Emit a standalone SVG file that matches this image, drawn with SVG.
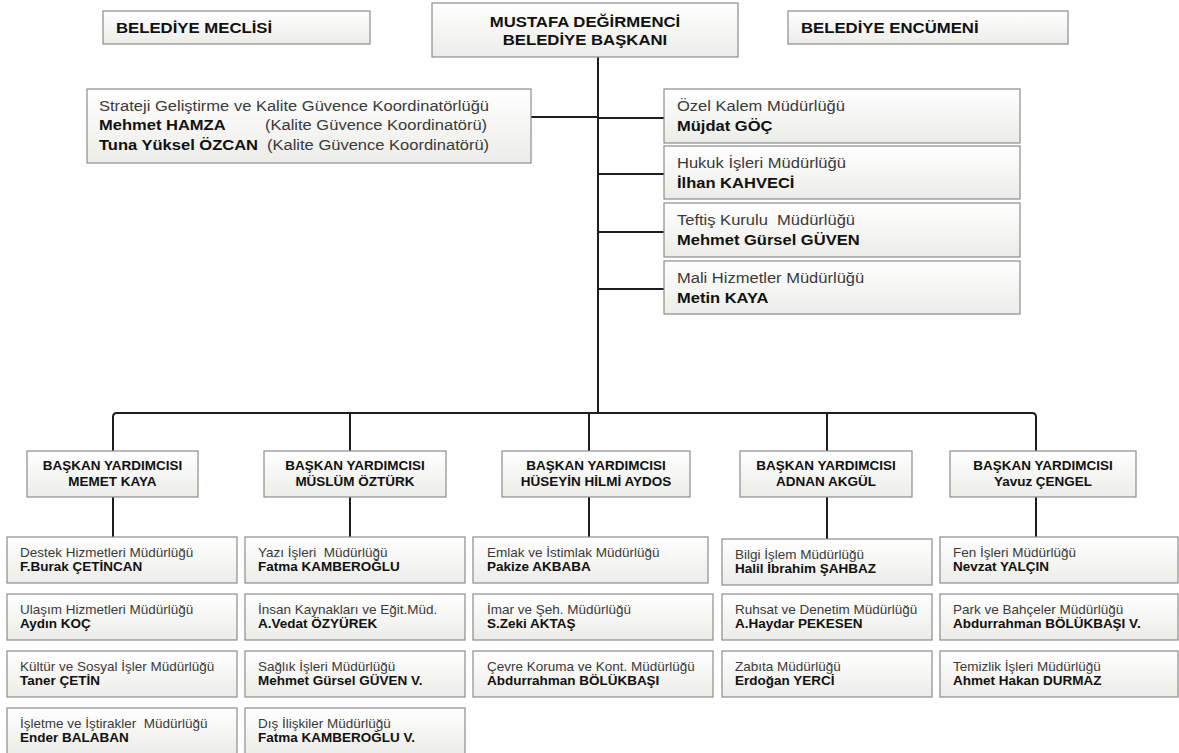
<svg xmlns="http://www.w3.org/2000/svg" width="1179" height="753" viewBox="0 0 1179 753">
<defs>
<linearGradient id="g" x1="0" y1="0" x2="0" y2="1">
<stop offset="0" stop-color="#ffffff"/>
<stop offset="1" stop-color="#ecece8"/>
</linearGradient>
<style>
.box{fill:url(#g);stroke:#8c8c8c;stroke-width:1.2}
.t{font-family:"Liberation Sans",Arial,sans-serif;fill:#3a3a3a}
.b{font-family:"Liberation Sans",Arial,sans-serif;font-weight:bold;fill:#111}
.top{font-size:15.5px;transform-box:fill-box;transform-origin:0 0;transform:scaleX(1.08)}
.topc{font-size:15.5px;text-anchor:middle;transform-box:fill-box;transform-origin:50% 0;transform:scaleX(1.08)}
.mid{font-size:14.5px;transform-box:fill-box;transform-origin:0 0;transform:scaleX(1.14)}
.vp{font-size:12.5px;text-anchor:middle;transform-box:fill-box;transform-origin:50% 0;transform:scaleX(1.08)}
.sm{font-size:12.5px;transform-box:fill-box;transform-origin:0 0;transform:scaleX(1.08)}
.ln{fill:none;stroke:#1e1e1e;stroke-width:2}
</style>
</defs>
<rect width="1179" height="753" fill="#ffffff"/>
<g id="connectors">
<path class="ln" d="M598 52 V413"/>
<path class="ln" d="M531 117 H598"/>
<path class="ln" d="M598 118 H664 M598 174 H664 M598 232 H664 M598 289 H664"/>
<path class="ln" d="M113 451 V417 Q113 413 117 413 H1032 Q1036 413 1036 417 V451"/>
<path class="ln" d="M350 413 V451 M589 413 V451 M827 413 V451"/>
<path class="ln" d="M113 497 V537 M350 497 V537 M589 497 V537 M827 497 V539 M1036 497 V537"/>
</g>
<g id="meclis"><rect class="box" x="103" y="11" width="267" height="33"/><text class="b top" x="116" y="33">BELEDİYE MECLİSİ</text></g>
<g id="baskan"><rect class="box" x="432" y="3" width="306" height="54"/>
<text class="b topc" x="585" y="27">MUSTAFA DEĞİRMENCİ</text>
<text class="b topc" x="585" y="45">BELEDİYE BAŞKANI</text></g>
<g id="encumen"><rect class="box" x="788" y="11" width="280" height="33"/><text class="b top" x="801" y="33">BELEDİYE ENCÜMENİ</text></g>
<g id="strateji"><rect class="box" x="87" y="89" width="444" height="74"/>
<text class="t mid" x="99" y="111">Strateji Geliştirme ve Kalite Güvence Koordinatörlüğü</text>
<text class="b mid" x="99" y="130">Mehmet HAMZA</text>
<text class="t mid" x="265" y="130">(Kalite Güvence Koordinatörü)</text>
<text class="b mid" x="99" y="150">Tuna Yüksel ÖZCAN</text>
<text class="t mid" x="267" y="150">(Kalite Güvence Koordinatörü)</text></g>
<g id="ozelkalem"><rect class="box" x="664" y="89" width="356" height="54"/><text class="t mid" x="677" y="111">Özel Kalem Müdürlüğü</text><text class="b mid" x="677" y="131">Müjdat GÖÇ</text></g>
<g id="hukuk"><rect class="box" x="664" y="146" width="356" height="53"/><text class="t mid" x="677" y="168">Hukuk İşleri Müdürlüğü</text><text class="b mid" x="677" y="188">İlhan KAHVECİ</text></g>
<g id="teftis"><rect class="box" x="664" y="203" width="356" height="54"/><text class="t mid" x="677" y="225" xml:space="preserve">Teftiş Kurulu  Müdürlüğü</text><text class="b mid" x="677" y="245">Mehmet Gürsel GÜVEN</text></g>
<g id="mali"><rect class="box" x="664" y="261" width="356" height="53"/><text class="t mid" x="677" y="283">Mali Hizmetler Müdürlüğü</text><text class="b mid" x="677" y="303">Metin KAYA</text></g>
<g id="vp1"><rect class="box" x="27" y="451" width="171" height="46"/><text class="b vp" x="112.5" y="470">BAŞKAN YARDIMCISI</text><text class="b vp" x="112.5" y="486">MEMET KAYA</text></g>
<g id="vp2"><rect class="box" x="264" y="451" width="182" height="46"/><text class="b vp" x="355" y="470">BAŞKAN YARDIMCISI</text><text class="b vp" x="355" y="486">MÜSLÜM ÖZTÜRK</text></g>
<g id="vp3"><rect class="box" x="502" y="451" width="188" height="46"/><text class="b vp" x="596" y="470">BAŞKAN YARDIMCISI</text><text class="b vp" x="596" y="486">HÜSEYİN HİLMİ AYDOS</text></g>
<g id="vp4"><rect class="box" x="740" y="451" width="172" height="46"/><text class="b vp" x="826" y="470">BAŞKAN YARDIMCISI</text><text class="b vp" x="826" y="486">ADNAN AKGÜL</text></g>
<g id="vp5"><rect class="box" x="950" y="451" width="186" height="46"/><text class="b vp" x="1043" y="470">BAŞKAN YARDIMCISI</text><text class="b vp" x="1043" y="486">Yavuz ÇENGEL</text></g>
<g id="c1r1"><rect class="box" x="7" y="537" width="230" height="46"/><text class="t sm" x="20" y="557">Destek Hizmetleri Müdürlüğü</text><text class="b sm" x="20" y="571">F.Burak ÇETİNCAN</text></g>
<g id="c1r2"><rect class="box" x="7" y="594" width="230" height="46"/><text class="t sm" x="20" y="614">Ulaşım Hizmetleri Müdürlüğü</text><text class="b sm" x="20" y="628">Aydın KOÇ</text></g>
<g id="c1r3"><rect class="box" x="7" y="651" width="230" height="46"/><text class="t sm" x="20" y="671">Kültür ve Sosyal İşler Müdürlüğü</text><text class="b sm" x="20" y="685">Taner ÇETİN</text></g>
<g id="c1r4"><rect class="box" x="7" y="708" width="230" height="46"/><text class="t sm" x="20" y="728" xml:space="preserve">İşletme ve İştirakler  Müdürlüğü</text><text class="b sm" x="20" y="742">Ender BALABAN</text></g>
<g id="c2r1"><rect class="box" x="245" y="537" width="220" height="46"/><text class="t sm" x="258" y="557" xml:space="preserve">Yazı İşleri  Müdürlüğü</text><text class="b sm" x="258" y="571">Fatma KAMBEROĞLU</text></g>
<g id="c2r2"><rect class="box" x="245" y="594" width="220" height="46"/><text class="t sm" x="258" y="614">İnsan Kaynakları ve Eğit.Müd.</text><text class="b sm" x="258" y="628">A.Vedat ÖZYÜREK</text></g>
<g id="c2r3"><rect class="box" x="245" y="651" width="220" height="46"/><text class="t sm" x="258" y="671">Sağlık İşleri Müdürlüğü</text><text class="b sm" x="258" y="685">Mehmet Gürsel GÜVEN V.</text></g>
<g id="c2r4"><rect class="box" x="245" y="708" width="220" height="46"/><text class="t sm" x="258" y="728">Dış İlişkiler Müdürlüğü</text><text class="b sm" x="258" y="742">Fatma KAMBEROĞLU V.</text></g>
<g id="c3r1"><rect class="box" x="473" y="537" width="235" height="46"/><text class="t sm" x="487" y="557">Emlak ve İstimlak Müdürlüğü</text><text class="b sm" x="487" y="571">Pakize AKBABA</text></g>
<g id="c3r2"><rect class="box" x="473" y="594" width="240" height="46"/><text class="t sm" x="487" y="614">İmar ve Şeh. Müdürlüğü</text><text class="b sm" x="487" y="628">S.Zeki AKTAŞ</text></g>
<g id="c3r3"><rect class="box" x="473" y="651" width="240" height="46"/><text class="t sm" x="487" y="671">Çevre Koruma ve Kont. Müdürlüğü</text><text class="b sm" x="487" y="685">Abdurrahman BÖLÜKBAŞI</text></g>
<g id="c4r1"><rect class="box" x="722" y="539" width="210" height="46"/><text class="t sm" x="735" y="559">Bilgi İşlem Müdürlüğü</text><text class="b sm" x="735" y="573">Halil İbrahim ŞAHBAZ</text></g>
<g id="c4r2"><rect class="box" x="722" y="594" width="210" height="46"/><text class="t sm" x="735" y="614">Ruhsat ve Denetim Müdürlüğü</text><text class="b sm" x="735" y="628">A.Haydar PEKESEN</text></g>
<g id="c4r3"><rect class="box" x="722" y="651" width="210" height="46"/><text class="t sm" x="735" y="671">Zabıta Müdürlüğü</text><text class="b sm" x="735" y="685">Erdoğan YERCİ</text></g>
<g id="c5r1"><rect class="box" x="940" y="537" width="238" height="46"/><text class="t sm" x="953" y="557">Fen İşleri Müdürlüğü</text><text class="b sm" x="953" y="571">Nevzat YALÇIN</text></g>
<g id="c5r2"><rect class="box" x="940" y="594" width="238" height="46"/><text class="t sm" x="953" y="614">Park ve Bahçeler Müdürlüğü</text><text class="b sm" x="953" y="628">Abdurrahman BÖLÜKBAŞI V.</text></g>
<g id="c5r3"><rect class="box" x="940" y="651" width="238" height="46"/><text class="t sm" x="953" y="671">Temizlik İşleri Müdürlüğü</text><text class="b sm" x="953" y="685">Ahmet Hakan DURMAZ</text></g>
</svg>
